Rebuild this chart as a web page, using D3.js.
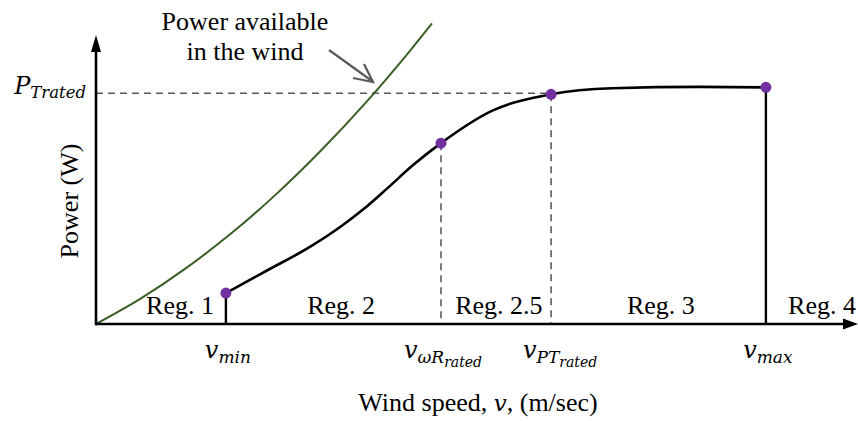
<!DOCTYPE html>
<html>
<head>
<meta charset="utf-8">
<script src="https://cdn.jsdelivr.net/npm/d3@7"></script>
<style>
  body { margin: 0; background: #fff; }
  svg { display: block; }
</style>
</head>
<body>
<svg id="chart" width="858" height="421"></svg>
<script>
// wind speed (m/s, nominal) and normalised power
const availX = [0, 1.5, 3, 4.5, 6, 7.5, 9, 10.5, 11.2];
const availP = [0, 0.111, 0.242, 0.392, 0.562, 0.752, 0.961, 1.19, 1.303];

const turbX = [4.33, 5.7, 7.13, 8.23, 8.9, 9.7, 10.57, 11.5, 13.23, 15.17, 17.2, 20.1, 22.33];
const turbP = [0.134, 0.232, 0.334, 0.429, 0.496, 0.587, 0.689, 0.784, 0.926, 0.996, 1.022, 1.028, 1.026];

// marked operating points: v_min, v_wR_rated, v_PT_rated, v_max
const keyX = [4.33, 11.5, 15.17, 22.33];
const keyP = [0.134, 0.784, 0.996, 1.026];
const pRated = 0.996;

const regNames = ['Reg. 1', 'Reg. 2', 'Reg. 2.5', 'Reg. 3', 'Reg. 4'];
const regX = [2.8, 8.17, 13.43, 18.83, 24.2];

const tickMain = ['v', 'v', 'v', 'v'];
const tickSub = ['min', 'ωR', 'PT', 'max'];
const tickSubSub = ['', 'rated', 'rated', ''];

const svg = d3.select('#chart');
const x = d3.scaleLinear().domain([0, 25]).range([96, 846]);
const y = d3.scaleLinear().domain([0, 1.24]).range([324, 38]);

const serif = '"Liberation Serif", "Times New Roman", serif';
const math = '"DejaVu Serif", serif';
const dashCol = '#5a5a5a';

// dashed guides
svg.append('line')
    .attr('x1', x(0)).attr('x2', x(keyX[2]))
    .attr('y1', y(pRated) - 1).attr('y2', y(pRated) - 1)
    .attr('stroke', dashCol).attr('stroke-width', 1.6).attr('stroke-dasharray', '7,5');
[1, 2].forEach(i => {
    svg.append('line')
        .attr('x1', x(keyX[i])).attr('x2', x(keyX[i]))
        .attr('y1', y(keyP[i])).attr('y2', y(0))
        .attr('stroke', dashCol).attr('stroke-width', 1.6).attr('stroke-dasharray', '7,5');
});

// solid drops at v_min and v_max
[0, 3].forEach(i => {
    svg.append('line')
        .attr('x1', x(keyX[i])).attr('x2', x(keyX[i]))
        .attr('y1', y(keyP[i])).attr('y2', y(0))
        .attr('stroke', '#000').attr('stroke-width', 2.4);
});

const line = d3.line().x(d => x(d[0])).y(d => y(d[1])).curve(d3.curveMonotoneX);

svg.append('path')
    .datum(d3.zip(availX, availP))
    .attr('d', line)
    .attr('fill', 'none').attr('stroke', '#3b5e26').attr('stroke-width', 2);

svg.append('path')
    .datum(d3.zip(turbX, turbP))
    .attr('d', line)
    .attr('fill', 'none').attr('stroke', '#000').attr('stroke-width', 2.6);

// axes with arrow heads
svg.append('line')
    .attr('x1', x(0)).attr('x2', 846).attr('y1', y(0)).attr('y2', y(0))
    .attr('stroke', '#000').attr('stroke-width', 2.6);
svg.append('path')
    .attr('d', `M858,${y(0)} L843,${y(0) - 5.5} L843,${y(0) + 5.5} Z`)
    .attr('fill', '#000');
svg.append('line')
    .attr('x1', x(0)).attr('x2', x(0)).attr('y1', y(0) + 1.3).attr('y2', 50)
    .attr('stroke', '#000').attr('stroke-width', 2.6);
svg.append('path')
    .attr('d', `M${x(0)},35 L${x(0) - 5},52 L${x(0) + 5},52 Z`)
    .attr('fill', '#000');

// operating points
svg.selectAll('circle.pt')
    .data(d3.zip(keyX, keyP))
    .join('circle')
    .attr('class', 'pt')
    .attr('cx', d => x(d[0])).attr('cy', d => y(d[1]))
    .attr('r', 5.5).attr('fill', '#7030a0');

// region labels
svg.selectAll('text.reg')
    .data(d3.zip(regNames, regX))
    .join('text')
    .attr('class', 'reg')
    .attr('x', d => x(d[1])).attr('y', 314)
    .attr('text-anchor', 'middle')
    .style('font-family', serif).style('font-size', '26px')
    .text(d => d[0]);

// tick labels with subscripts
tickMain.forEach((m, i) => {
    const t = svg.append('text')
        .attr('x', x(keyX[i]) + (i == 2 ? 9 : 2)).attr('y', 358)
        .attr('text-anchor', 'middle')
        .style('font-family', math).style('font-style', 'italic');
    t.append('tspan').style('font-size', '24px').text(m);
    t.append('tspan').attr('dy', 5).style('font-size', '17px').text(tickSub[i]);
    if (tickSubSub[i]) {
        t.append('tspan').attr('dy', 4).style('font-size', '14px').text(tickSubSub[i]);
    }
});

// P_Trated label
const pl = svg.append('text')
    .attr('x', 86).attr('y', y(pRated))
    .attr('text-anchor', 'end')
    .style('font-family', math).style('font-style', 'italic');
pl.append('tspan').style('font-size', '24px').text('P');
pl.append('tspan').attr('dy', 4).style('font-size', '16.5px').text('Trated');

// axis titles
svg.append('text')
    .attr('transform', `translate(78,201) rotate(-90)`)
    .attr('text-anchor', 'middle')
    .style('font-family', serif).style('font-size', '26px')
    .text('Power (W)');

const xt = svg.append('text')
    .attr('x', 478).attr('y', 411)
    .attr('text-anchor', 'middle')
    .style('font-family', serif).style('font-size', '26px');
xt.append('tspan').text('Wind speed, ');
xt.append('tspan').style('font-family', math).style('font-style', 'italic').style('font-size', '23px').text('v');
xt.append('tspan').text(', (m/sec)');

// annotation
svg.append('text')
    .attr('text-anchor', 'middle')
    .style('font-family', serif).style('font-size', '26px')
    .selectAll('tspan')
    .data(['Power available', 'in the wind'])
    .join('tspan')
    .attr('x', 245).attr('y', (d, i) => 30 + i * 30)
    .text(d => d);

svg.append('line')
    .attr('x1', 329).attr('y1', 50).attr('x2', 372).attr('y2', 81)
    .attr('stroke', dashCol).attr('stroke-width', 2.2);
svg.append('path')
    .attr('d', 'M353,78 L373,82 L364,64')
    .attr('fill', 'none').attr('stroke', dashCol).attr('stroke-width', 2.2);
</script>
</body>
</html>
